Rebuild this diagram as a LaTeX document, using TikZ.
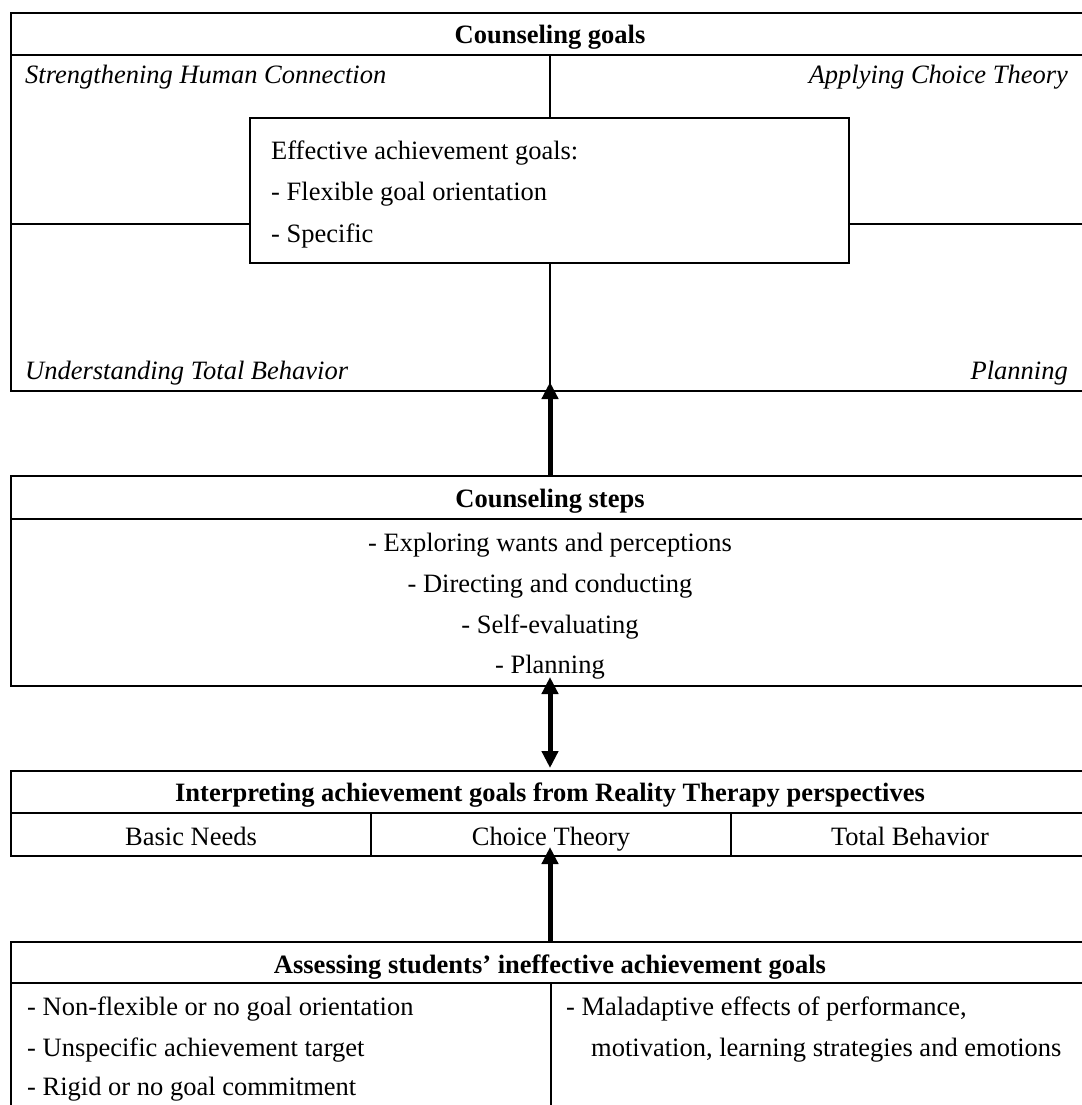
\documentclass[tikz,border=0pt]{standalone}
\usepackage{fontspec}
\setmainfont{Liberation Serif}
\usetikzlibrary{arrows.meta}
\begin{document}
\begin{tikzpicture}[x=1pt,y=-1pt,
  frame/.style={draw, line width=2.4pt, anchor=north west, inner sep=0pt, outer sep=0pt, minimum width=1078pt},
  rule/.style={line width=2pt},
  lbl/.style={inner sep=0pt, font=\fontsize{26.5}{31}\selectfont},
  hd/.style={inner sep=0pt, anchor=base, font=\fontsize{26.5}{31}\selectfont\bfseries},
  it/.style={inner sep=0pt, font=\fontsize{26.5}{31}\selectfont\itshape},
  tip/.style={Triangle[length=17pt,width=16pt]},
  flow/.style={line width=5pt, -{Triangle[length=17pt,width=16pt]}, shorten >=-9pt},
  dflow/.style={line width=5pt, {Triangle[length=17pt,width=16pt]}-{Triangle[length=17pt,width=16pt]}, shorten >=-9pt, shorten <=3pt},
]
\useasboundingbox (0,0) rectangle (1081,1105);
\fill[white] (0,0) rectangle (1081,1105);

% ---- Counseling goals ----
\node[frame, minimum height=378pt] (goals) at (11,13) {};
\draw[rule] (11,55) -- (1089,55);
\draw[rule] (550,55) -- (550,391);
\draw[rule] (11,224) -- (1089,224);
\node[frame, fill=white, line width=2pt, minimum width=599pt, minimum height=145pt] (eff) at (250,118) {};
\node[hd] (tg) at (550,44) {Counseling goals};
\node[it, anchor=base west] (q1) at (25,84) {Strengthening Human Connection};
\node[it, anchor=base east] (q2) at (1068,84) {Applying Choice Theory};
\node[it, anchor=base west] (q3) at (25,379) {Understanding Total Behavior};
\node[it, anchor=base east] (q4) at (1068,379) {Planning};
\node[lbl, anchor=base west] (e1) at (271,159) {Effective achievement goals:};
\node[lbl, anchor=base west] (e2) at (271,200) {- Flexible goal orientation};
\node[lbl, anchor=base west] (e3) at (271,242) {- Specific};

% ---- Counseling steps ----
\node[frame, minimum height=210pt] (steps) at (11,476) {};
\draw[rule] (11,519) -- (1089,519);
\node[hd] (ts) at (550,507) {Counseling steps};
\node[lbl, anchor=base] (s1) at (550,551) {- Exploring wants and perceptions};
\node[lbl, anchor=base] (s2) at (550,592) {- Directing and conducting};
\node[lbl, anchor=base] (s3) at (550,633) {- Self-evaluating};
\node[lbl, anchor=base] (s4) at (550,673) {- Planning};

% ---- Interpreting ----
\node[frame, minimum height=85pt] (interp) at (11,771) {};
\draw[rule] (11,813) -- (1089,813);
\draw[rule] (371,813) -- (371,856);
\draw[rule] (731,813) -- (731,856);
\node[hd] (ti) at (550,801) {Interpreting achievement goals from Reality Therapy perspectives};
\node[lbl, anchor=base] (i1) at (191,845) {Basic Needs};
\node[lbl, anchor=base] (i2) at (551,845) {Choice Theory};
\node[lbl, anchor=base] (i3) at (910,845) {Total Behavior};

% ---- Assessing ----
\node[frame, minimum height=200pt] (assess) at (11,942) {};
\draw[rule] (11,983) -- (1089,983);
\draw[rule] (551,983) -- (551,1142);
\node[hd] (ta) at (550,973) {Assessing students’ ineffective achievement goals};
\node[lbl, anchor=base west] (a1) at (27,1015) {- Non-flexible or no goal orientation};
\node[lbl, anchor=base west] (a2) at (27,1056) {- Unspecific achievement target};
\node[lbl, anchor=base west] (a3) at (27,1095) {- Rigid or no goal commitment};
\node[lbl, anchor=base west] (b1) at (566,1015) {- Maladaptive effects of performance,};
\node[lbl, anchor=base west] (b2) at (591,1056) {motivation, learning strategies and emotions};

% ---- connectors ----
\draw[flow] (steps.north) -- (goals.south);
\draw[dflow] (interp.north) -- (steps.south);
\draw[flow] (assess.north) -- (interp.south);
\end{tikzpicture}
\end{document}
